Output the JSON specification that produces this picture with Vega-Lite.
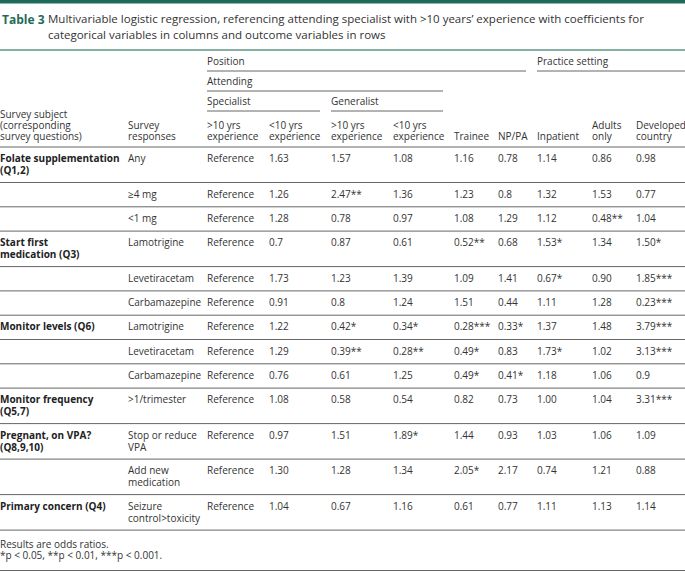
{
  "$schema": "https://vega.github.io/schema/vega-lite/v6.json",
  "width": 685,
  "height": 571,
  "autosize": {"type": "none"},
  "padding": 0,
  "background": "#ffffff",
  "config": {"view": {"stroke": null}},
  "datasets": {
    "bar": [{"r": 0, "c": 0, "c2": 11}],
    "trule": [{"r": 3, "c": 0, "c2": 11}],
    "rules": [
      {"r": 5, "c": 8, "c2": 11},
      {"r": 13, "c": 0, "c2": 11},
      {"r": 14, "c": 0, "c2": 11},
      {"r": 15, "c": 0, "c2": 11},
      {"r": 16, "c": 0, "c2": 11},
      {"r": 17, "c": 0, "c2": 11},
      {"r": 18, "c": 0, "c2": 11},
      {"r": 19, "c": 0, "c2": 11},
      {"r": 20, "c": 0, "c2": 11},
      {"r": 21, "c": 0, "c2": 11},
      {"r": 22, "c": 0, "c2": 11},
      {"r": 23, "c": 0, "c2": 11},
      {"r": 24, "c": 0, "c2": 11},
      {"r": 25, "c": 0, "c2": 11},
      {"r": 26, "c": 0, "c2": 11},
      {"r": 29, "c": 0, "c2": 11}
    ],
    "grules": [
      {"r": 5, "c": 2, "c2": 8},
      {"r": 7, "c": 2, "c2": 6},
      {"r": 9, "c": 2, "c2": 4},
      {"r": 9, "c": 4, "c2": 6}
    ],
    "tlabel": [{"r": 1, "c": 0, "t": "Table 3"}],
    "caption": [
      {"r": 1, "c": 0, "t": "Multivariable logistic regression, referencing attending specialist with >10 years’ experience with coefficients for"},
      {"r": 2, "c": 0, "t": "categorical variables in columns and outcome variables in rows"}
    ],
    "hdr": [
      {"r": 4, "c": 2, "t": "Position"},
      {"r": 4, "c": 8, "t": "Practice setting"},
      {"r": 6, "c": 2, "t": "Attending"},
      {"r": 8, "c": 2, "t": "Specialist"},
      {"r": 8, "c": 4, "t": "Generalist"},
      {"r": 10, "c": 0, "t": "Survey subject"},
      {"r": 11, "c": 0, "t": "(corresponding"},
      {"r": 12, "c": 0, "t": "survey questions)"},
      {"r": 11, "c": 1, "t": "Survey"},
      {"r": 12, "c": 1, "t": "responses"},
      {"r": 11, "c": 2, "t": ">10 yrs"},
      {"r": 12, "c": 2, "t": "experience"},
      {"r": 11, "c": 3, "t": "<10 yrs"},
      {"r": 12, "c": 3, "t": "experience"},
      {"r": 11, "c": 4, "t": ">10 yrs"},
      {"r": 12, "c": 4, "t": "experience"},
      {"r": 11, "c": 5, "t": "<10 yrs"},
      {"r": 12, "c": 5, "t": "experience"},
      {"r": 12, "c": 6, "t": "Trainee"},
      {"r": 12, "c": 7, "t": "NP/PA"},
      {"r": 12, "c": 8, "t": "Inpatient"},
      {"r": 11, "c": 9, "t": "Adults"},
      {"r": 12, "c": 9, "t": "only"},
      {"r": 11, "c": 10, "t": "Developed"},
      {"r": 12, "c": 10, "t": "country"}
    ],
    "foot": [
      {"r": 27, "c": 0, "t": "Results are odds ratios."},
      {"r": 28, "c": 0, "t": "*p < 0.05, **p < 0.01, ***p < 0.001."}
    ],
    "body": [
      {"r": 13, "c": 0, "t": "Folate supplementation\n(Q1,2)"},
      {"r": 13, "c": 1, "t": "Any"},
      {"r": 13, "c": 2, "t": "Reference"},
      {"r": 13, "c": 3, "t": "1.63"},
      {"r": 13, "c": 4, "t": "1.57"},
      {"r": 13, "c": 5, "t": "1.08"},
      {"r": 13, "c": 6, "t": "1.16"},
      {"r": 13, "c": 7, "t": "0.78"},
      {"r": 13, "c": 8, "t": "1.14"},
      {"r": 13, "c": 9, "t": "0.86"},
      {"r": 13, "c": 10, "t": "0.98"},
      {"r": 14, "c": 1, "t": "≥4 mg"},
      {"r": 14, "c": 2, "t": "Reference"},
      {"r": 14, "c": 3, "t": "1.26"},
      {"r": 14, "c": 4, "t": "2.47**"},
      {"r": 14, "c": 5, "t": "1.36"},
      {"r": 14, "c": 6, "t": "1.23"},
      {"r": 14, "c": 7, "t": "0.8"},
      {"r": 14, "c": 8, "t": "1.32"},
      {"r": 14, "c": 9, "t": "1.53"},
      {"r": 14, "c": 10, "t": "0.77"},
      {"r": 15, "c": 1, "t": "<1 mg"},
      {"r": 15, "c": 2, "t": "Reference"},
      {"r": 15, "c": 3, "t": "1.28"},
      {"r": 15, "c": 4, "t": "0.78"},
      {"r": 15, "c": 5, "t": "0.97"},
      {"r": 15, "c": 6, "t": "1.08"},
      {"r": 15, "c": 7, "t": "1.29"},
      {"r": 15, "c": 8, "t": "1.12"},
      {"r": 15, "c": 9, "t": "0.48**"},
      {"r": 15, "c": 10, "t": "1.04"},
      {"r": 16, "c": 0, "t": "Start first\nmedication (Q3)"},
      {"r": 16, "c": 1, "t": "Lamotrigine"},
      {"r": 16, "c": 2, "t": "Reference"},
      {"r": 16, "c": 3, "t": "0.7"},
      {"r": 16, "c": 4, "t": "0.87"},
      {"r": 16, "c": 5, "t": "0.61"},
      {"r": 16, "c": 6, "t": "0.52**"},
      {"r": 16, "c": 7, "t": "0.68"},
      {"r": 16, "c": 8, "t": "1.53*"},
      {"r": 16, "c": 9, "t": "1.34"},
      {"r": 16, "c": 10, "t": "1.50*"},
      {"r": 17, "c": 1, "t": "Levetiracetam"},
      {"r": 17, "c": 2, "t": "Reference"},
      {"r": 17, "c": 3, "t": "1.73"},
      {"r": 17, "c": 4, "t": "1.23"},
      {"r": 17, "c": 5, "t": "1.39"},
      {"r": 17, "c": 6, "t": "1.09"},
      {"r": 17, "c": 7, "t": "1.41"},
      {"r": 17, "c": 8, "t": "0.67*"},
      {"r": 17, "c": 9, "t": "0.90"},
      {"r": 17, "c": 10, "t": "1.85***"},
      {"r": 18, "c": 1, "t": "Carbamazepine"},
      {"r": 18, "c": 2, "t": "Reference"},
      {"r": 18, "c": 3, "t": "0.91"},
      {"r": 18, "c": 4, "t": "0.8"},
      {"r": 18, "c": 5, "t": "1.24"},
      {"r": 18, "c": 6, "t": "1.51"},
      {"r": 18, "c": 7, "t": "0.44"},
      {"r": 18, "c": 8, "t": "1.11"},
      {"r": 18, "c": 9, "t": "1.28"},
      {"r": 18, "c": 10, "t": "0.23***"},
      {"r": 19, "c": 0, "t": "Monitor levels (Q6)"},
      {"r": 19, "c": 1, "t": "Lamotrigine"},
      {"r": 19, "c": 2, "t": "Reference"},
      {"r": 19, "c": 3, "t": "1.22"},
      {"r": 19, "c": 4, "t": "0.42*"},
      {"r": 19, "c": 5, "t": "0.34*"},
      {"r": 19, "c": 6, "t": "0.28***"},
      {"r": 19, "c": 7, "t": "0.33*"},
      {"r": 19, "c": 8, "t": "1.37"},
      {"r": 19, "c": 9, "t": "1.48"},
      {"r": 19, "c": 10, "t": "3.79***"},
      {"r": 20, "c": 1, "t": "Levetiracetam"},
      {"r": 20, "c": 2, "t": "Reference"},
      {"r": 20, "c": 3, "t": "1.29"},
      {"r": 20, "c": 4, "t": "0.39**"},
      {"r": 20, "c": 5, "t": "0.28**"},
      {"r": 20, "c": 6, "t": "0.49*"},
      {"r": 20, "c": 7, "t": "0.83"},
      {"r": 20, "c": 8, "t": "1.73*"},
      {"r": 20, "c": 9, "t": "1.02"},
      {"r": 20, "c": 10, "t": "3.13***"},
      {"r": 21, "c": 1, "t": "Carbamazepine"},
      {"r": 21, "c": 2, "t": "Reference"},
      {"r": 21, "c": 3, "t": "0.76"},
      {"r": 21, "c": 4, "t": "0.61"},
      {"r": 21, "c": 5, "t": "1.25"},
      {"r": 21, "c": 6, "t": "0.49*"},
      {"r": 21, "c": 7, "t": "0.41*"},
      {"r": 21, "c": 8, "t": "1.18"},
      {"r": 21, "c": 9, "t": "1.06"},
      {"r": 21, "c": 10, "t": "0.9"},
      {"r": 22, "c": 0, "t": "Monitor frequency\n(Q5,7)"},
      {"r": 22, "c": 1, "t": ">1/trimester"},
      {"r": 22, "c": 2, "t": "Reference"},
      {"r": 22, "c": 3, "t": "1.08"},
      {"r": 22, "c": 4, "t": "0.58"},
      {"r": 22, "c": 5, "t": "0.54"},
      {"r": 22, "c": 6, "t": "0.82"},
      {"r": 22, "c": 7, "t": "0.73"},
      {"r": 22, "c": 8, "t": "1.00"},
      {"r": 22, "c": 9, "t": "1.04"},
      {"r": 22, "c": 10, "t": "3.31***"},
      {"r": 23, "c": 0, "t": "Pregnant, on VPA?\n(Q8,9,10)"},
      {"r": 23, "c": 1, "t": "Stop or reduce\nVPA"},
      {"r": 23, "c": 2, "t": "Reference"},
      {"r": 23, "c": 3, "t": "0.97"},
      {"r": 23, "c": 4, "t": "1.51"},
      {"r": 23, "c": 5, "t": "1.89*"},
      {"r": 23, "c": 6, "t": "1.44"},
      {"r": 23, "c": 7, "t": "0.93"},
      {"r": 23, "c": 8, "t": "1.03"},
      {"r": 23, "c": 9, "t": "1.06"},
      {"r": 23, "c": 10, "t": "1.09"},
      {"r": 24, "c": 1, "t": "Add new\nmedication"},
      {"r": 24, "c": 2, "t": "Reference"},
      {"r": 24, "c": 3, "t": "1.30"},
      {"r": 24, "c": 4, "t": "1.28"},
      {"r": 24, "c": 5, "t": "1.34"},
      {"r": 24, "c": 6, "t": "2.05*"},
      {"r": 24, "c": 7, "t": "2.17"},
      {"r": 24, "c": 8, "t": "0.74"},
      {"r": 24, "c": 9, "t": "1.21"},
      {"r": 24, "c": 10, "t": "0.88"},
      {"r": 25, "c": 0, "t": "Primary concern (Q4)"},
      {"r": 25, "c": 1, "t": "Seizure\ncontrol>toxicity"},
      {"r": 25, "c": 2, "t": "Reference"},
      {"r": 25, "c": 3, "t": "1.04"},
      {"r": 25, "c": 4, "t": "0.67"},
      {"r": 25, "c": 5, "t": "1.16"},
      {"r": 25, "c": 6, "t": "0.61"},
      {"r": 25, "c": 7, "t": "0.77"},
      {"r": 25, "c": 8, "t": "1.11"},
      {"r": 25, "c": 9, "t": "1.13"},
      {"r": 25, "c": 10, "t": "1.14"}
    ]
  },
  "layer": [
    {
      "data": {"name": "bar"},
      "mark": {"type": "rule", "stroke": "#1e6b58", "strokeWidth": 7},
      "encoding": {
        "x": {"field": "c", "type": "quantitative", "axis": null, "scale": {"domain": [0,1,2,3,4,5,6,7,8,9,10,11], "range": [0,128,207,269,331,393,454,498,537,592,636,685], "zero": false, "nice": false}},
        "x2": {"field": "c2"},
        "y": {"field": "r", "type": "quantitative", "axis": null, "scale": {"domain": [0,1,2,3,4,5,6,7,8,9,10,11,12,13,14,15,16,17,18,19,20,21,22,23,24,25,26,27,28,29], "range": [0,20,36,50,62,71,82,91,102,111,115,126,137,147,182.5,206.8,231.1,266.6,290.9,315.2,339.5,363.8,388.1,423.6,459.1,494.6,530.1,545,556,570.5], "zero": false, "nice": false}}
      }
    },
    {
      "data": {"name": "trule"},
      "mark": {"type": "rule", "stroke": "#5e9684", "strokeWidth": 1.6},
      "encoding": {
        "x": {"field": "c", "type": "quantitative", "axis": null},
        "x2": {"field": "c2"},
        "y": {"field": "r", "type": "quantitative", "axis": null}
      }
    },
    {
      "data": {"name": "rules"},
      "mark": {"type": "rule", "stroke": "#666666", "strokeWidth": 1},
      "encoding": {
        "x": {"field": "c", "type": "quantitative", "axis": null},
        "x2": {"field": "c2"},
        "y": {"field": "r", "type": "quantitative", "axis": null}
      }
    },
    {
      "data": {"name": "grules"},
      "mark": {"type": "rule", "stroke": "#666666", "strokeWidth": 1, "x2Offset": -11},
      "encoding": {
        "x": {"field": "c", "type": "quantitative", "axis": null},
        "x2": {"field": "c2"},
        "y": {"field": "r", "type": "quantitative", "axis": null}
      }
    },
    {
      "data": {"name": "tlabel"},
      "mark": {"type": "text", "font": "Open Sans", "fontSize": 12, "fontWeight": "bold", "fill": "#1e6b58", "align": "left", "baseline": "middle", "dx": 2},
      "encoding": {
        "x": {"field": "c", "type": "quantitative", "axis": null},
        "y": {"field": "r", "type": "quantitative", "axis": null},
        "text": {"field": "t"}
      }
    },
    {
      "data": {"name": "caption"},
      "mark": {"type": "text", "font": "Open Sans", "fontSize": 11.5, "fill": "#333333", "align": "left", "baseline": "middle", "dx": 48},
      "encoding": {
        "x": {"field": "c", "type": "quantitative", "axis": null},
        "y": {"field": "r", "type": "quantitative", "axis": null},
        "text": {"field": "t"}
      }
    },
    {
      "data": {"name": "hdr"},
      "mark": {"type": "text", "font": "Open Sans", "fontSize": 10, "fill": "#333333", "align": "left", "baseline": "middle"},
      "encoding": {
        "x": {"field": "c", "type": "quantitative", "axis": null},
        "y": {"field": "r", "type": "quantitative", "axis": null},
        "text": {"field": "t"}
      }
    },
    {
      "data": {"name": "body"},
      "transform": [{"filter": "datum.c > 0"}],
      "mark": {"type": "text", "font": "Open Sans", "fontSize": 10, "fill": "#333333", "align": "left", "baseline": "top", "dy": 7, "lineBreak": "\n", "lineHeight": 12},
      "encoding": {
        "x": {"field": "c", "type": "quantitative", "axis": null},
        "y": {"field": "r", "type": "quantitative", "axis": null},
        "text": {"field": "t"}
      }
    },
    {
      "data": {"name": "body"},
      "transform": [{"filter": "datum.c == 0"}],
      "mark": {"type": "text", "font": "Open Sans", "fontSize": 10, "fontWeight": "bold", "fill": "#222222", "align": "left", "baseline": "top", "dy": 7, "lineBreak": "\n", "lineHeight": 12},
      "encoding": {
        "x": {"field": "c", "type": "quantitative", "axis": null},
        "y": {"field": "r", "type": "quantitative", "axis": null},
        "text": {"field": "t"}
      }
    },
    {
      "data": {"name": "foot"},
      "mark": {"type": "text", "font": "Open Sans", "fontSize": 10, "fill": "#333333", "align": "left", "baseline": "middle"},
      "encoding": {
        "x": {"field": "c", "type": "quantitative", "axis": null},
        "y": {"field": "r", "type": "quantitative", "axis": null},
        "text": {"field": "t"}
      }
    }
  ]
}
